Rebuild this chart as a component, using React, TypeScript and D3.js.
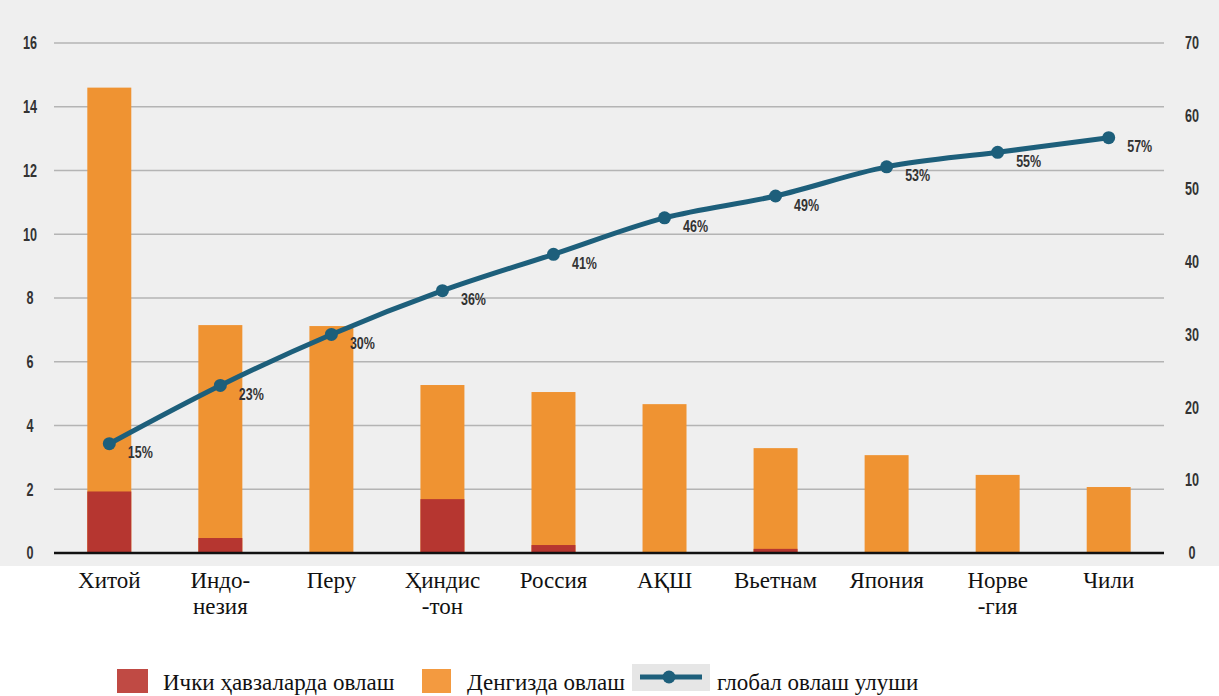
import * as d3 from "d3";

const countries = [
  ["Хитой"],
  ["Индо-", "незия"],
  ["Перу"],
  ["Ҳиндис", "-тон"],
  ["Россия"],
  ["АҚШ"],
  ["Вьетнам"],
  ["Япония"],
  ["Норве", "-гия"],
  ["Чили"],
];
const inland = [1.93, 0.47, 0, 1.69, 0.25, 0, 0.13, 0, 0, 0];
const total = [14.6, 7.15, 7.12, 5.27, 5.05, 4.67, 3.29, 3.07, 2.45, 2.07];
const share = [15, 23, 30, 36, 41, 46, 49, 53, 55, 57];
const leftTicks = [0, 2, 4, 6, 8, 10, 12, 14, 16];
const rightTicks = [0, 10, 20, 30, 40, 50, 60, 70];
const legendLabels = ["Ички ҳавзаларда овлаш", "Денгизда овлаш", "глобал овлаш улуши"];

const W = 1219;
const H = 696;
const RED = "#b63630";
const ORANGE = "#ef9332";
const TEAL = "#1d5f7b";
const axisFont = "Liberation Sans, Arial, sans-serif";
const serif = "Liberation Serif, Times New Roman, serif";

// condensed bold label, squeezed horizontally
function Narrow({ x, y, anchor, size, sx = 0.7, children }: any) {
  return (
    <text
      transform={`translate(${x},${y}) scale(${sx},1)`}
      dy="0.35em"
      textAnchor={anchor}
      style={{ fontFamily: axisFont, fontWeight: "bold", fontSize: size }}
      fill="#333"
    >
      {children}
    </text>
  );
}

export default function App() {
  const idx = countries.map((_, i) => String(i));
  const gridX0 = 54;
  const gridX1 = 1164;
  const x = d3.scaleBand(idx, [gridX0, gridX1]).paddingInner(0.604).paddingOuter(0.3);
  const y = d3.scaleLinear([0, 16], [553, 43]);
  const y2 = d3.scaleLinear([0, 70], [553, 43]);
  const bw = x.bandwidth();
  const cx = (i: number) => (x(String(i)) as number) + bw / 2;

  const line = d3
    .line<number>()
    .x((_, i) => cx(i))
    .y((d) => y2(d))
    .curve(d3.curveMonotoneX);

  return (
    <svg
      width={W}
      height={H}
      style={{ position: "absolute", left: 0, top: 0, background: "#fff" }}
    >
      <rect x={0} y={0} width={W} height={566} fill="#efefef" />
      {leftTicks.map((t) => (
        <g key={t}>
          {t > 0 && (
            <line x1={gridX0} x2={gridX1} y1={y(t)} y2={y(t)} stroke="#b4b4b4" strokeWidth={1.5} />
          )}
          <Narrow x={30} y={y(t)} anchor="middle" size={18}>
            {t}
          </Narrow>
        </g>
      ))}
      {rightTicks.map((t) => (
        <Narrow key={t} x={1192} y={y2(t)} anchor="middle" size={18}>
          {t}
        </Narrow>
      ))}
      {total.map((t, i) => (
        <g key={i}>
          <rect x={x(String(i))} y={y(t)} width={bw} height={y(0) - y(t)} fill={ORANGE} />
          {inland[i] > 0 && (
            <rect
              x={x(String(i))}
              y={y(inland[i])}
              width={bw}
              height={y(0) - y(inland[i])}
              fill={RED}
            />
          )}
        </g>
      ))}
      <line x1={gridX0} x2={gridX1} y1={y(0)} y2={y(0)} stroke="#111" strokeWidth={2.5} />
      <path d={line(share) as string} fill="none" stroke={TEAL} strokeWidth={5} />
      {share.map((s, i) => (
        <g key={i}>
          <circle cx={cx(i)} cy={y2(s)} r={6.5} fill={TEAL} />
          <Narrow x={cx(i) + 31} y={y2(s) + 9} anchor="middle" size={16} sx={0.78}>
            {s}%
          </Narrow>
        </g>
      ))}
      {countries.map((lines, i) => (
        <text
          key={i}
          x={cx(i)}
          y={588}
          textAnchor="middle"
          style={{ fontFamily: serif, fontSize: 23 }}
          fill="#111"
        >
          {lines.map((l, j) => (
            <tspan key={j} x={cx(i)} dy={j === 0 ? 0 : 26}>
              {l}
            </tspan>
          ))}
        </text>
      ))}
      <g style={{ fontFamily: serif, fontSize: 23 }} fill="#111">
        <rect x={117} y={669} width={31} height={24} fill="#c04a44" />
        <text x={163} y={690}>{legendLabels[0]}</text>
        <rect x={422} y={669} width={29} height={24} fill="#f39a40" />
        <text x={467} y={690}>{legendLabels[1]}</text>
        <rect x={632} y={664} width={78} height={27} fill="#e6e6e6" />
        <line x1={640} x2={702} y1={677} y2={677} stroke={TEAL} strokeWidth={5} />
        <circle cx={669} cy={677} r={6.5} fill={TEAL} />
        <text x={717} y={690}>{legendLabels[2]}</text>
      </g>
    </svg>
  );
}
